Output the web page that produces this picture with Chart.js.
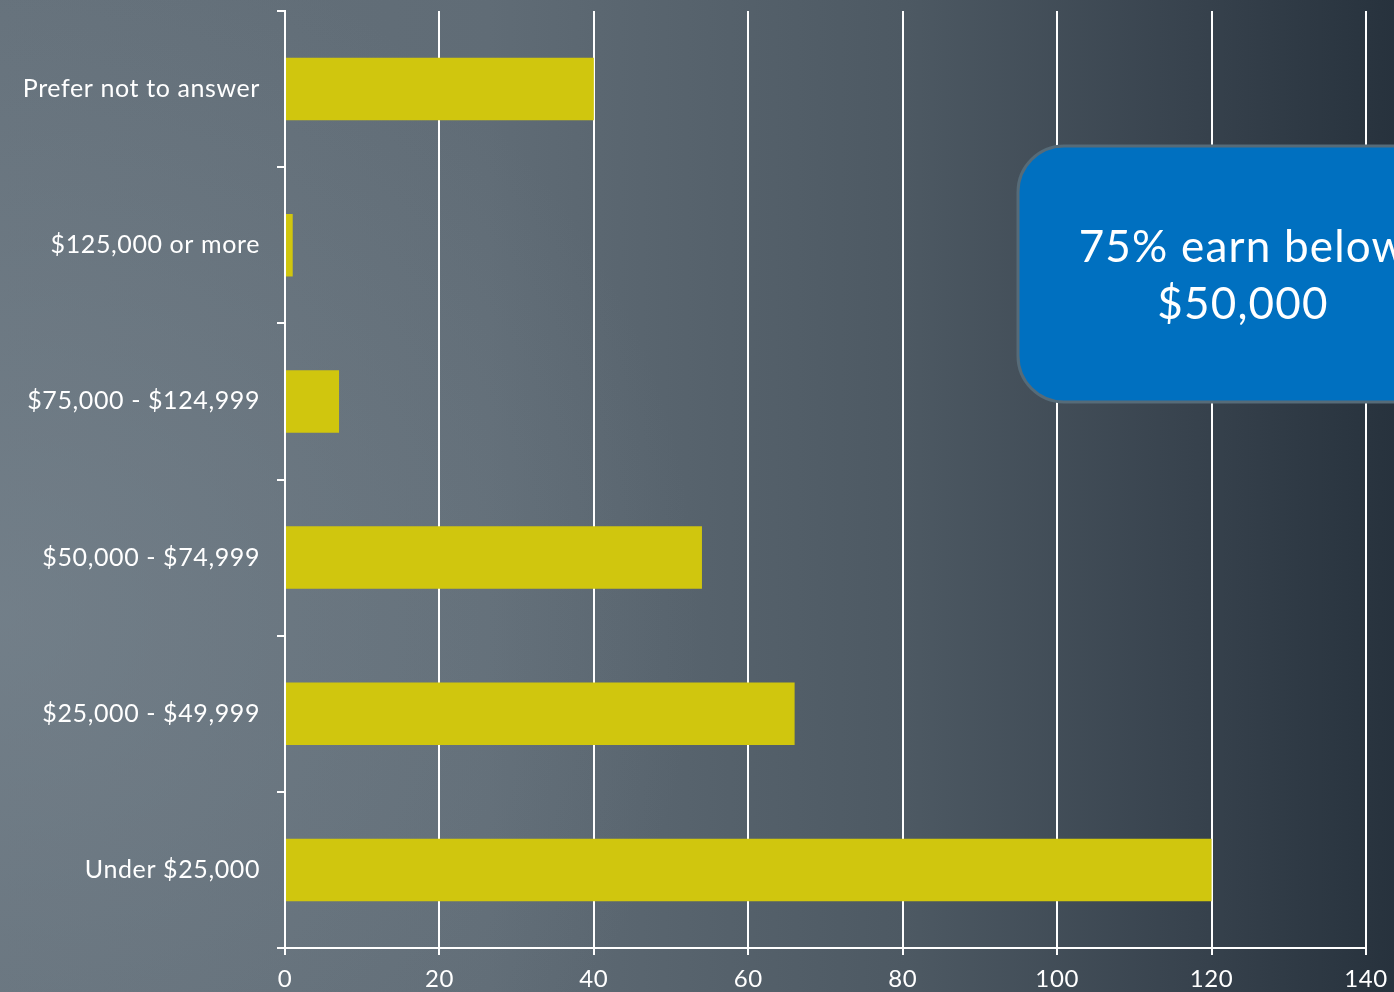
<!DOCTYPE html>
<html>
<head>
<meta charset="utf-8">
<script src="https://cdn.jsdelivr.net/npm/chart.js@4"></script>
<style>
    html, body {
        margin: 0;
        padding: 0;
        width: 1394px;
        height: 992px;
        overflow: hidden;
    }
    body {
        background:
            radial-gradient(ellipse 700px 700px at 0% 62%, rgba(125,138,148,0.55) 0%, rgba(125,138,148,0) 100%),
            linear-gradient(to right, #65717b 0%, #606c76 35%, #4d5963 65%, #38434e 85%, #27323d 100%);
    }
    #wrap { position: relative; width: 1394px; height: 992px; }
</style>
</head>
<body>
<div id="wrap"><canvas id="chartIngresos"></canvas></div>
<script>
const categorias = [
    "Prefer not to answer",
    "$125,000 or more",
    "$75,000 - $124,999",
    "$50,000 - $74,999",
    "$25,000 - $49,999",
    "Under $25,000"
];
const respuestas = [40, 1, 7, 54, 66, 120];
const ejeX = { min: 0, max: 140, paso: 20 };
const notaLineas = ["75% earn below", "$50,000"];

const FUENTE = "Lato, 'DejaVu Sans', sans-serif";

// Lato es más estrecha, se abre un poco el espaciado
const espaciadoPlugin = {
    id: "espaciado",
    beforeDraw(chart) { chart.ctx.letterSpacing = "0.6px"; }
};

// ── Recuadro azul con la nota ─────────────────────────────
const notaPlugin = {
    id: "nota",
    afterDraw(chart) {
        const ctx = chart.ctx;
        const x = 1018, y = 146, w = 450, h = 256, r = 46;
        ctx.save();
        ctx.beginPath();
        ctx.roundRect(x, y, w, h, r);
        ctx.fillStyle = "#0070c0";
        ctx.fill();
        ctx.lineWidth = 3;
        ctx.strokeStyle = "#566b78";
        ctx.stroke();

        ctx.fillStyle = "#ffffff";
        ctx.font = "44px " + FUENTE;
        ctx.letterSpacing = "1.2px";
        ctx.textAlign = "center";
        ctx.textBaseline = "middle";
        ctx.fillText(notaLineas[0], 1243, 248);
        ctx.fillText(notaLineas[1], 1243, 305);
        ctx.restore();
    }
};

const ctx = document.getElementById("chartIngresos").getContext("2d");

new Chart(ctx, {
    type: "bar",
    data: {
        labels: categorias,
        datasets: [{
            data: respuestas,
            backgroundColor: "#d0c60e",
            borderWidth: 0,
            barPercentage: 0.4,
            categoryPercentage: 1
        }]
    },
    options: {
        indexAxis: "y",
        responsive: true,
        maintainAspectRatio: false,
        animation: false,
        layout: { padding: { top: 11, right: 28, left: 0, bottom: 0 } },
        plugins: {
            legend: { display: false },
            tooltip: { enabled: false }
        },
        scales: {
            x: {
                min: ejeX.min,
                max: ejeX.max,
                ticks: {
                    stepSize: ejeX.paso,
                    color: "#ffffff",
                    font: { family: FUENTE, size: 24 },
                    padding: 10
                },
                grid: {
                    color: "#ffffff",
                    lineWidth: 2,
                    tickLength: 7,
                    drawOnChartArea: true
                },
                border: { display: true, color: "#ffffff", width: 2 },
                afterFit(scale) {
                    scale.height = 44;
                    scale.paddingLeft = 0;
                    scale.paddingRight = 0;
                }
            },
            y: {
                ticks: {
                    color: "#ffffff",
                    font: { family: FUENTE, size: 25 },
                    padding: 17
                },
                grid: {
                    color: "#ffffff",
                    lineWidth: 2,
                    tickLength: 8,
                    drawOnChartArea: false,
                    offset: true
                },
                border: { display: true, color: "#ffffff", width: 2 },
                afterFit(scale) {
                    scale.width = 285;
                    scale.paddingTop = 0;
                    scale.paddingBottom = 0;
                }
            }
        }
    },
    plugins: [espaciadoPlugin, notaPlugin]
});
</script>
</body>
</html>
